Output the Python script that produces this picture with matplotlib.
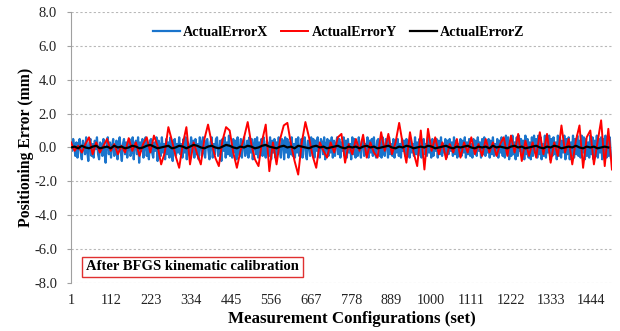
import numpy as np
import matplotlib
matplotlib.use("Agg")
import matplotlib.pyplot as plt

plt.rcParams['font.family'] = ['Liberation Serif', 'DejaVu Serif']

# Positioning error samples (mm); each series is sampled at a fixed set interval
error_x_step = 3
error_x = [
    0.4, -0.2, 0.5, 0.1, -0.5, 0.3, -0.6, 0.2, 0.5, -0.3,
    -0.7, 0.4, 0.1, -0.4, 0.6, -0.2, -0.8, 0.3, 0.5, -0.5,
    0.2, -0.6, 0.4, -0.1, 0.6, -0.4, -0.7, 0.3, 0.1, -0.5,
    0.5, -0.3, -0.9, 0.2, 0.6, -0.4, 0.3, -0.6, 0.1, 0.5,
    -0.5, -0.2, 0.4, -0.7, 0.3, 0.6, -0.3, -0.8, 0.2, 0.5,
    -0.4, 0.3, -0.6, 0.1, 0.5, -0.5, -0.3, 0.6, -0.7, 0.2,
    0.4, -0.4, 0.6, -0.9, 0.3, -0.2, 0.5, -0.6, 0.1, 0.6,
    -0.5, 0.2, -0.7, 0.4, 0.5, -0.3, -0.6, 0.3, -0.2, 0.6,
    -0.8, 0.4, 0.1, -0.5, 0.6, -0.3, 0.2, -0.7, 0.5, -0.4,
    0.3, -0.6, 0.6, -0.2, -0.8, 0.4, 0.5, -0.5, 0.2, -0.3,
    0.6, -0.4, 0.2, -0.6, 0.5, -0.3, 0.6, -0.7, 0.3, 0.1,
    -0.5, 0.6, -0.2, 0.4, -0.6, 0.5, -0.4, 0.2, -0.7, 0.6,
    0.3, -0.5, 0.6, -0.3, -0.6, 0.4, 0.5, -0.2, -0.7, 0.3,
    0.6, -0.6, 0.2, -0.4, 0.5, 0.6, -0.5, -0.3, 0.4, -0.8,
    0.5, -0.2, 0.6, -0.6, 0.3, -0.4, 0.7, -0.5, 0.1, -0.6,
    0.5, -0.3, 0.4, -0.7, 0.6, -0.2, -0.5, 0.5, -0.6, 0.3,
    0.6, -0.5, -0.2, 0.4, -0.6, 0.6, -0.3, 0.5, -0.7, 0.2,
    0.5, -0.4, 0.6, -0.6, 0.3, -0.3, 0.5, -0.5, 0.6, -0.2,
    -0.6, 0.4, 0.2, -0.5, 0.6, -0.7, 0.4, -0.3, 0.5, -0.6,
    0.3, -0.4, 0.6, -0.2, -0.6, 0.5, 0.4, -0.7, 0.6, -0.3,
    0.5, -0.6, 0.3, -0.4, 0.6, -0.5, 0.2, -0.6, 0.5, -0.3,
    0.6, -0.5, -0.2, 0.5, -0.6, 0.3, 0.6, -0.4, -0.7, 0.4,
    0.2, -0.5, 0.6, -0.3, 0.5, -0.6, 0.4, -0.2, 0.6, -0.5,
    -0.6, 0.5, 0.3, -0.4, 0.6, -0.7, 0.2, 0.5, -0.5, 0.4,
    -0.3, 0.6, -0.6, 0.4, -0.5, 0.2, 0.6, -0.4, 0.5, -0.6,
    0.3, -0.2, 0.6, -0.5, 0.4, -0.6, 0.5, -0.3, 0.2, -0.7,
    0.6, -0.4, 0.5, -0.6, 0.3, -0.5, 0.6, -0.2, -0.6, 0.4,
    0.5, -0.5, 0.2, -0.4, 0.6, -0.6, 0.4, -0.3, 0.5, -0.5,
    0.6, -0.3, -0.6, 0.4, 0.5, -0.5, 0.3, -0.6, 0.6, -0.2,
    -0.5, 0.5, 0.3, -0.6, 0.6, -0.4, 0.2, -0.5, 0.5, -0.6,
    0.4, -0.3, 0.5, -0.5, 0.2, -0.6, 0.5, -0.2, 0.4, -0.5,
    0.5, -0.4, 0.3, -0.6, 0.5, -0.3, 0.2, -0.5, 0.6, -0.4,
    0.3, -0.5, 0.5, -0.2, -0.6, 0.4, 0.5, -0.4, 0.2, -0.5,
    0.6, -0.3, 0.4, -0.6, 0.5, -0.5, 0.3, -0.2, 0.5, -0.6,
    0.4, -0.4, 0.6, -0.5, 0.2, -0.3, 0.5, -0.6, 0.4, -0.4,
    0.5, -0.2, 0.3, -0.5, 0.6, -0.4, 0.4, -0.6, 0.2, -0.5,
    0.5, -0.5, 0.4, -0.3, 0.6, -0.6, 0.3, -0.4, 0.5, -0.5,
    0.2, -0.6, 0.5, -0.3, 0.4, -0.5, 0.6, -0.2, 0.3, -0.6,
    0.5, -0.4, 0.6, -0.5, 0.3, -0.3, 0.5, -0.6, 0.4, -0.4,
    0.6, -0.5, 0.2, -0.4, 0.5, -0.6, 0.4, -0.3, 0.6, -0.5,
    0.5, -0.6, 0.7, -0.3, 0.6, -0.7, 0.4, -0.5, 0.7, -0.4,
    0.3, -0.7, 0.6, -0.5, 0.7, -0.2, 0.5, -0.6, 0.4, -0.7,
    0.7, -0.4, 0.5, -0.6, 0.3, -0.7, 0.6, -0.5, 0.7, -0.3,
    0.5, -0.6, 0.7, -0.4, 0.6, -0.7, 0.2, -0.5, 0.7, -0.6,
    0.4, -0.3, 0.7, -0.7, 0.5, -0.5, 0.6, -0.4, 0.3, -0.7,
    0.7, -0.5, 0.6, -0.6, 0.4, -0.3, 0.7, -0.7, 0.5, -0.4,
    0.6, -0.7, 0.3, -0.5, 0.7, -0.6, 0.5, -0.4, 0.7, -0.5,
    0.4, -0.6, 0.7, -0.3, 0.6, -0.7, 0.5, -0.5, 0.3, -0.6,
    0.7, -0.4, 0.6, -0.7, 0.4, -0.5, 0.7, -0.6, 0.5, -0.3,
    0.6, -0.7, 0.5, -0.4, 0.7, -0.6, 0.4, -0.5, 0.6, -0.6,
]

error_y_step = 10
error_y = [
    0.3, -0.2, 0.1, -0.3, 0.2, 0.6, -0.4, 0.3, -0.3, 0.1,
    0.5, -0.2, 0.2, -0.4, 0.1, -0.3, 0.55, -0.2, 0.3, -0.5,
    0.2, 0.6, -0.3, 0.7, 0.1, -1.0, -0.3, 1.2, 0.4, -0.5,
    -1.2, 0.2, 1.2, -1.0, 0.3, -0.4, -1.0, 0.5, 1.35, 0.3,
    -0.6, -1.1, 0.4, 1.2, 1.0, -0.3, -1.2, -0.2, 0.6, 1.5,
    0.2, -0.7, -1.1, 0.4, 1.35, -1.4, 0.3, -1.0, 0.5, 1.3,
    1.45, 0.2, -0.8, -1.6, 0.3, 1.5, 0.6, -0.5, -1.2, 0.3,
    -0.2, -0.6, 0.3, -0.3, 0.6, 0.8, -0.9, 0.2, -0.4, 0.5,
    -0.2, 0.75, -0.6, 0.3, -0.3, -0.6, 0.9, -0.2, 0.8, -0.4,
    0.3, 1.45, 0.2, -0.9, 0.9, -0.3, -1.1, 1.0, -1.3, 1.1,
    -0.2, 0.6, -0.4, 0.3, -0.7, 0.2, -0.3, 0.5, -0.6, 0.3,
    -0.3, 0.6, -0.4, 0.2, -0.5, 0.5, -0.3, 0.3, -0.5, 0.2,
    0.6, -0.5, 0.7, -0.3, 0.8, -0.8, 0.4, -0.5, 0.3, -0.6,
    0.9, -0.4, 0.8, -0.9, 0.3, -0.5, 1.3, -0.3, 0.5, -1.0,
    0.4, 1.3, -1.2, 0.6, 1.0, -1.0, 0.3, 1.6, -1.1, 1.1,
    -1.3,
]

error_z_step = 10
error_z = [
    0.0, 0.05, -0.05, 0.1, 0.0, -0.05, 0.05, 0.1, -0.05, 0.0,
    0.05, -0.05, 0.1, 0.0, 0.05, -0.05, 0.0, 0.1, 0.05, -0.05,
    0.0, 0.1, 0.15, 0.05, -0.05, 0.0, 0.05, 0.1, -0.05, 0.0,
    0.1, 0.05, -0.05, 0.05, 0.15, 0.1, 0.0, -0.05, 0.05, 0.1,
    0.0, -0.05, 0.05, 0.15, 0.1, 0.0, -0.05, 0.05, 0.0, 0.1,
    0.05, -0.05, 0.0, 0.1, 0.15, 0.05, 0.0, -0.05, 0.05, 0.1,
    0.0, 0.05, -0.05, 0.1, 0.05, 0.0, -0.05, 0.05, 0.1, 0.0,
    0.05, -0.05, 0.0, 0.05, 0.1, 0.0, -0.05, 0.05, 0.0, 0.05,
    -0.05, 0.05, 0.1, 0.0, 0.05, -0.05, 0.0, 0.05, 0.1, 0.0,
    -0.05, 0.05, 0.0, 0.1, 0.05, -0.05, 0.0, 0.05, 0.0, 0.1,
    0.05, -0.05, 0.0, 0.05, 0.1, 0.0, -0.05, 0.05, 0.0, 0.05,
    0.1, 0.0, -0.05, 0.05, 0.0, 0.05, -0.05, 0.1, 0.0, 0.05,
    0.0, -0.05, 0.05, 0.1, 0.0, 0.05, -0.05, 0.0, 0.05, 0.1,
    0.0, -0.05, 0.05, 0.0, 0.1, 0.05, -0.05, 0.0, 0.05, 0.0,
    0.1, 0.0, -0.05, 0.05, 0.0, 0.05, -0.05, 0.0, 0.05, 0.0,
]

series_names = ["ActualErrorX", "ActualErrorY", "ActualErrorZ"]
x_tick_labels = ["1", "112", "223", "334", "445", "556", "667", "778",
                 "889", "1000", "1111", "1222", "1333", "1444"]
y_ticks = [-8.0, -6.0, -4.0, -2.0, 0.0, 2.0, 4.0, 6.0, 8.0]

fig = plt.figure(figsize=(6.2, 3.31), dpi=100)
ax = fig.add_axes([0.1145, 0.145, 0.8725, 0.819])

sx = 1 + error_x_step * np.arange(len(error_x))
sy = 1 + error_y_step * np.arange(len(error_y))
sz = 1 + error_z_step * np.arange(len(error_z))

ax.plot(sx, error_x, color="#1a74cc", lw=1.6, label=series_names[0], zorder=2)
ax.plot(sy, error_y, color="#ff0000", lw=1.4, label=series_names[1], zorder=3)
ax.plot(sz, error_z, color="#000000", lw=1.6, label=series_names[2], zorder=4)

ax.set_xlim(1, 1501)
ax.set_ylim(-8, 8)
ax.set_yticks(y_ticks)
ax.set_yticklabels([f"{v:.1f}" for v in y_ticks], fontsize=10.5, color="#222222")
ax.set_xticks([int(t) for t in x_tick_labels])
ax.set_xticklabels(x_tick_labels, fontsize=10.3, color="#222222")
ax.tick_params(axis="x", length=0, pad=8)
ax.tick_params(axis="y", length=3, color="#a0a0a0", pad=7)

ax.yaxis.grid(True, color="#b8b8b8", ls=(0, (2, 2)), lw=0.8)
ax.set_axisbelow(True)
for side in ["top", "right", "bottom"]:
    ax.spines[side].set_visible(False)
ax.spines["left"].set_color("#a0a0a0")

ax.set_xlabel("Measurement Configurations (set)", fontsize=12.2, fontweight="bold")
ax.xaxis.set_label_coords(0.52, -0.105)
ax.set_ylabel("Positioning Error (mm)", fontsize=11.3, fontweight="bold")
ax.yaxis.set_label_coords(-0.068, 0.5)

ax.legend(loc="upper center", bbox_to_anchor=(0.495, 0.995), ncol=3, frameon=False,
          prop={"weight": "bold", "size": 10.2}, handlelength=1.9,
          columnspacing=0.9, handletextpad=0.25)

ax.text(0.028, 0.06, "After BFGS kinematic calibration", transform=ax.transAxes,
        fontsize=10.5, fontweight="bold", va="center", ha="left",
        bbox=dict(boxstyle="square,pad=0.25", fc="white", ec="#e03030", lw=1.0))

fig.savefig("out.png", dpi=100)
